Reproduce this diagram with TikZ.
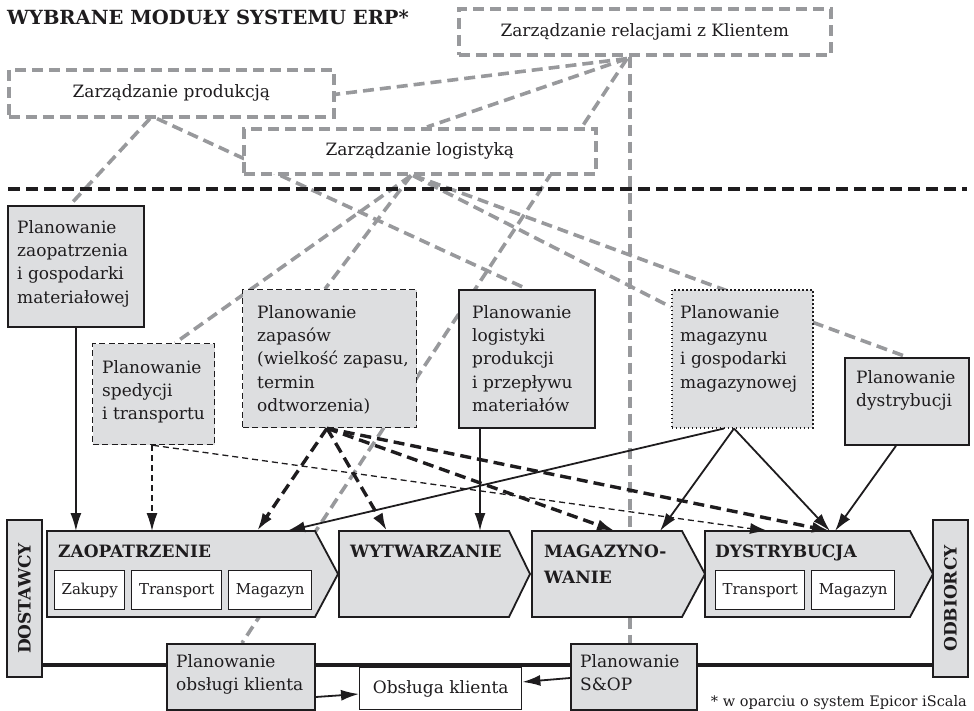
\documentclass[tikz,border=0pt]{standalone}
\usepackage{fontspec}
\setmainfont{DejaVu Serif}
\usetikzlibrary{arrows.meta}
\definecolor{lgray}{RGB}{152,153,156}
\definecolor{bfill}{RGB}{221,222,224}
\definecolor{ink}{RGB}{30,28,30}
% fixed-height strut so that the first baseline of a text block is known
\newcommand\fstrut{\rule{0pt}{16pt}}
\pgfdeclarelayer{links}
\pgfsetlayers{links,main}
\begin{document}
\begin{tikzpicture}[x=1pt,y=-1pt,
  gline/.style={draw=lgray, line width=3.6pt, dash pattern=on 11pt off 6pt},
  mgmt/.style={rectangle, draw=lgray, line width=3.6pt, dash pattern=on 11pt off 6pt,
    fill=white, inner sep=0pt, anchor=north west, text=ink,
    font=\fontsize{17}{23}\selectfont},
  plan/.style={rectangle, draw=ink, line width=1.8pt, fill=bfill, inner sep=0pt, anchor=north west},
  plandash/.style={plan, line width=1.3pt, dash pattern=on 6pt off 3.5pt},
  plandot/.style={plan, line width=1.5pt, dash pattern=on 1.5pt off 2.5pt},
  ptext/.style={anchor=north west, inner sep=0pt, align=left, text=ink,
    font=\fontsize{17}{23.3}\selectfont},
  subbox/.style={rectangle, draw=ink, line width=1.4pt, fill=white, inner sep=0pt,
    anchor=north west, text=ink, font=\fontsize{15}{18}\selectfont},
  chev/.style={draw=ink, line width=1.8pt, fill=bfill, line join=miter},
  chevtext/.style={inner sep=0pt, text=ink, align=left, font=\fontsize{17}{26}\bfseries\selectfont},
  side/.style={rectangle, draw=ink, line width=1.8pt, fill=bfill, inner sep=0pt, rotate=90,
    minimum width=157pt, minimum height=35pt, text=ink, font=\fontsize{17}{20}\bfseries\selectfont},
  tip/.style={-{Latex[length=18pt,width=11pt]}},
  arrsolid/.style={tip, draw=ink, line width=1.8pt},
  arrthick/.style={tip, draw=ink, line width=3.4pt, dash pattern=on 11pt off 6pt},
  arrthin/.style={tip, draw=ink, line width=1.3pt, dash pattern=on 6pt off 4pt},
]
\useasboundingbox (0,0) rectangle (974,711);

% ---------- management modules ----------
\node[mgmt, minimum width=372pt, minimum height=46pt] (relacje)   at (457,7)   {Zarządzanie relacjami z Klientem};
\node[mgmt, minimum width=325pt, minimum height=47pt] (produkcja) at (7,68)    {Zarządzanie produkcją};
\node[mgmt, minimum width=352pt, minimum height=45pt] (logistyka) at (242,127) {Zarządzanie logistyką};

% title
\node[anchor=base west, inner sep=0pt, text=ink, font=\fontsize{19.5}{22}\bfseries\selectfont] (title) at (7,25) {WYBRANE MODUŁY SYSTEMU ERP*};

% boundary between management and planning level
\draw[draw=ink, line width=3.4pt, dash pattern=on 12pt off 6pt] (8,189) coordinate (sepL) -- (967,189) coordinate (sepR);

% ---------- planning boxes ----------
\node[plan,     minimum width=136pt, minimum height=121pt] (pzaop) at (7,205)   {};
\node[plandash, minimum width=122pt, minimum height=101pt] (psped) at (92,343)  {};
\node[plandash, minimum width=174pt, minimum height=138pt] (pzap)  at (242,289) {};
\node[plan,     minimum width=136pt, minimum height=138pt] (plog)  at (458,289) {};
\node[plandot,  minimum width=141pt, minimum height=138pt] (pmag)  at (671,289) {};
\node[plan,     minimum width=124pt, minimum height=87pt]  (pdys)  at (844,357) {};

\node[ptext] (pzaopT) at (17,217)  {\fstrut Planowanie\\zaopatrzenia\\i gospodarki\\materiałowej};
\node[ptext] (pspedT) at (102,357) {\fstrut Planowanie\\spedycji\\i transportu};
\node[ptext] (pzapT)  at (257,302) {\fstrut Planowanie\\zapasów\\(wielkość zapasu,\\termin\\odtworzenia)};
\node[ptext] (plogT)  at (472,302) {\fstrut Planowanie\\logistyki\\produkcji\\i przepływu\\materiałów};
\node[ptext] (pmagT)  at (680,302) {\fstrut Planowanie\\magazynu\\i gospodarki\\magazynowej};
\node[ptext] (pdysT)  at (856,367) {\fstrut Planowanie\\dystrybucji};

% ---------- supply chain (chevrons) ----------
\draw[chev] (47,531) coordinate (zaopNW) -- (315,531) -- (338,574) -- (315,617) -- (47,617) -- cycle;
\draw[chev] (339,531) coordinate (wytwNW) -- (509,531) -- (530,574) -- (509,617) -- (339,617) -- cycle;
\draw[chev] (532,531) coordinate (magzNW) -- (682,531) -- (705,574) -- (682,617) -- (532,617) -- cycle;
\draw[chev] (705,531) coordinate (dystNW) -- (910,531) -- (933,574) -- (910,617) -- (705,617) -- cycle;

\node[chevtext, anchor=base west] (zaopL) at (58,557) {ZAOPATRZENIE};
\node[chevtext, anchor=base west] (wytwL) at (350,557) {WYTWARZANIE};
\node[chevtext, anchor=north west] (magzL) at (544,541) {\fstrut MAGAZYNO-\\WANIE};
\node[chevtext, anchor=base west] (dystL) at (715,557) {DYSTRYBUCJA};

\node[subbox, minimum width=70pt, minimum height=39pt] (zZak) at (54,570)  {Zakupy};
\node[subbox, minimum width=90pt, minimum height=39pt] (zTra) at (131,570) {Transport};
\node[subbox, minimum width=83pt, minimum height=39pt] (zMag) at (228,570) {Magazyn};
\node[subbox, minimum width=89pt, minimum height=39pt] (dTra) at (715,570) {Transport};
\node[subbox, minimum width=83pt, minimum height=39pt] (dMag) at (811,570) {Magazyn};

% ---------- customer service line ----------
\node[side] (dost) at (24.5,598.5) {DOSTAWCY};
\node[side] (odb)  at (950.5,598.5) {ODBIORCY};
\begin{pgfonlayer}{links}
  \draw[draw=ink, line width=3.4pt] (dost.south |- 0,665) -- (odb.north |- 0,665);
\end{pgfonlayer}

\node[plan, minimum width=148pt, minimum height=66pt] (pobs) at (166,643) {};
\node[plan, minimum width=126pt, minimum height=66pt] (psop) at (570,643) {};
\node[subbox, minimum width=162pt, minimum height=42pt, font=\fontsize{17}{20}\selectfont] (obs) at (359,667) {Obsługa klienta};
\node[ptext] (pobsT) at (176,651) {\fstrut Planowanie\\obsługi klienta};
\node[ptext] (psopT) at (580,651) {\fstrut Planowanie\\S\&OP};

\draw[arrsolid] ([yshift=-54pt]pobs.north east) -- ([yshift=-27pt]obs.north west);
\draw[arrsolid] ([yshift=-35pt]psop.north west) -- ([yshift=-15pt]obs.north east);

% ---------- grey links between modules (behind the boxes) ----------
\coordinate (rHub) at ([xshift=170pt,yshift=-2pt]relacje.south west);
\coordinate (pHub) at ([xshift=143pt]produkcja.south west);
\coordinate (lHub) at ([xshift=169pt]logistyka.south west);
\begin{pgfonlayer}{links}
  \draw[gline] (rHub) -- ([yshift=-1pt]produkcja.east);
  \draw[gline] (rHub) -- ([xshift=185pt]logistyka.north west);
  \draw[gline] (rHub) -- ([xshift=76pt]pobs.north west);
  \draw[gline] ([xshift=173pt]relacje.south west) -- ([xshift=60pt]psop.north west);
  \draw[gline] (pHub) -- ([xshift=63pt]pzaop.north west);
  \draw[gline] ([xshift=7pt]pHub) -- ([xshift=69pt]plog.north west);
  \draw[gline] (lHub) -- ([xshift=83pt]psped.north west);
  \draw[gline] (lHub) -- ([xshift=83pt]pzap.north west);
  \draw[gline] ([xshift=2pt]lHub) -- ([yshift=-18pt]pmag.north west);
  \draw[gline] ([xshift=3pt]lHub) -- ([xshift=63pt]pdys.north west);
\end{pgfonlayer}

% ---------- planning -> execution arrows ----------
\draw[arrsolid] (pzaop.south) -- (pzaop.south |- zaopNW);
\draw[arrthin] ([xshift=60pt]psped.south west) -- ([xshift=60pt]psped.south west |- zaopNW);
\draw[arrthin] ([xshift=61pt]psped.south west) -- ([xshift=63pt]dystNW);

\coordinate (zHub) at ([xshift=85pt]pzap.south west);
\draw[arrthick] (zHub) -- ([xshift=210pt]zaopNW);
\draw[arrthick] (zHub) -- ([xshift=48pt]wytwNW);
\draw[arrthick] (zHub) -- ([xshift=83pt]magzNW);
\draw[arrthick] (zHub) -- ([xshift=125pt]dystNW);

\draw[arrsolid] ([xshift=22pt]plog.south west) -- ([xshift=22pt]plog.south west |- wytwNW);

\coordinate (mHub) at ([xshift=63pt]pmag.south west);
\draw[arrsolid] ([xshift=-10pt]mHub) -- ([xshift=240pt]zaopNW);
\draw[arrsolid] (mHub) -- ([xshift=128pt]magzNW);
\draw[arrsolid] (mHub) -- ([xshift=125pt]dystNW);
\draw[arrsolid] ([xshift=52pt]pdys.south west) -- ([xshift=130pt]dystNW);

% footnote
\node[anchor=base east, inner sep=0pt, text=ink, font=\fontsize{14.5}{17}\selectfont] (note) at (967,706) {* w oparciu o system Epicor iScala};
\end{tikzpicture}
\end{document}
